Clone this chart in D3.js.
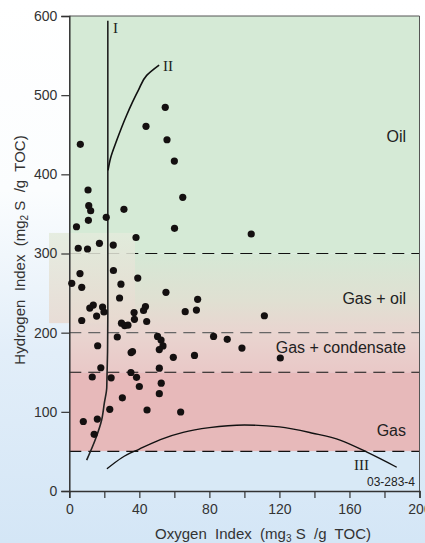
<!DOCTYPE html>
<html><head><meta charset="utf-8">
<script src="https://cdn.jsdelivr.net/npm/d3@7"></script>
<style>html,body{margin:0;padding:0;background:#fff}svg{display:block}</style>
</head><body>
<svg id="c" width="425" height="543"></svg>
<script>
// ---- data ----
const oxygenIndex = [54.8,43.8,55.8,6.3,60.0,10.7,64.8,11.1,12.2,31.2,21.1,10.9,4.1,60.1,38.1,103.9,5.1,10.4,17.2,25.1,6.1,1.4,7.1,25.2,39.1,29.5,28.7,55.2,66.2,73.3,72.6,111.4,13.7,11.7,19.0,19.8,15.6,7.1,37.0,37.2,43.5,42.4,44.2,29.8,31.6,33.5,27.4,50.4,52.4,82.4,90.2,98.6,53.5,51.4,36.1,35.3,59.4,71.5,120.5,16.2,18.0,13.1,23.9,35.2,38.4,40.0,51.4,52.5,51.4,30.3,8.0,16.0,14.2,23.1,44.4,63.6];
const hydrogenIndex = [484.7,460.7,443.7,437.9,416.8,380.2,371,360.4,354,355.8,345.7,341.9,333.8,331.8,320.2,324.6,306.6,305.7,312.9,310.7,274.7,262.3,257.3,278.5,269,261.2,243.8,251,226.5,242.1,228.6,221.4,234.9,231.1,232.4,226.1,221,215.4,225.5,216.9,233,228,214.1,212,209,209.5,194.5,195.2,190.7,195.2,191.6,180.6,183.2,178.7,176.2,174.9,168.9,171.2,168,183.5,155.7,144,143,149.7,143.6,132,155.1,136.2,122.9,117.7,87.8,90.9,71.6,103.2,102.3,99.8];

const curveI_oi = [22,22,21.4,20,18.5,14.7,9.9];
const curveI_hi = [594,220,131,111,90,64,39];
const curveII_oi = [22.1,23.5,27.1,32.8,39.4,44.2,51.3];
const curveII_hi = [405,420,443,475,506,525,538];
const curveIII_oi = [21.5,30,40,52,65,80,100,120,139,155,170,187];
const curveIII_hi = [28,42,53,65,74,80,83.4,81,73,64,49,30];

const zoneNames = ["Oil","Gas + oil","Gas + condensate","Gas"];
const zoneLabelHI = [441,236,174,70];
const boundaries = [300,200,150,50];
const xTicks = [0,20,40,60,80,100,120,140,160,180,200];
const xTickLabels = [0,40,80,120,160,200];
const yTicks = [0,100,200,300,400,500,600];

// ---- chart ----
const svg = d3.select("#c");
const W = 425, H = 543;
const x = d3.scaleLinear().domain([0,200]).range([69.3,419.5]);
const y = d3.scaleLinear().domain([0,600]).range([491,16]);
const sans = "'Liberation Sans', Arial, sans-serif";
const serif = "'Liberation Serif', 'Times New Roman', serif";

const defs = svg.append("defs");
const bg = defs.append("linearGradient").attr("id","bg").attr("x1",0).attr("y1",0).attr("x2",0).attr("y2",1);
bg.append("stop").attr("offset","0%").attr("stop-color","#ffffff");
bg.append("stop").attr("offset","35%").attr("stop-color","#fbfdfe");
bg.append("stop").attr("offset","65%").attr("stop-color","#e2eef9");
bg.append("stop").attr("offset","100%").attr("stop-color","#d4e6f6");
const mid = defs.append("linearGradient").attr("id","mid").attr("x1",0).attr("y1",0).attr("x2",0).attr("y2",1);
mid.append("stop").attr("offset","0%").attr("stop-color","#d5e8d5");
mid.append("stop").attr("offset","40%").attr("stop-color","#e0e0d2");
mid.append("stop").attr("offset","66%").attr("stop-color","#e9d5d0");
mid.append("stop").attr("offset","100%").attr("stop-color","#e9c8c7");
const pg = defs.append("linearGradient").attr("id","patch").attr("x1",0).attr("y1",0).attr("x2",0).attr("y2",1);
pg.append("stop").attr("offset","0%").attr("stop-color","#e3ebdc");
pg.append("stop").attr("offset","100%").attr("stop-color","#e8d9d0");

svg.append("rect").attr("width",W).attr("height",H).attr("fill","url(#bg)");

// zones
const zones = [
  {lo:300, hi:600, fill:"#d5ead6"},
  {lo:150, hi:300, fill:"url(#mid)"},
  {lo:50, hi:150, fill:"#e7b9ba"},
  {lo:0, hi:50, fill:"#d8e9f6"}
];
svg.selectAll("rect.zone").data(zones).join("rect").attr("class","zone")
  .attr("x",x(0)).attr("width",x(200)-x(0))
  .attr("y",d=>y(d.hi)).attr("height",d=>y(d.lo)-y(d.hi))
  .attr("fill",d=>d.fill);

// dashed boundaries
svg.selectAll("line.bd").data(boundaries).join("line").attr("class","bd")
  .attr("x1",x(0)).attr("x2",x(200)).attr("y1",d=>y(d)).attr("y2",d=>y(d))
  .attr("stroke",d=>d===200?"#666":"#111").attr("stroke-width",1.1)
  .attr("stroke-dasharray","12,7");

// patch artifact
svg.append("rect").attr("x",49).attr("y",y(326)).attr("width",86).attr("height",y(212)-y(326))
  .attr("fill","url(#patch)").attr("opacity",0.85);

// frame
svg.append("path").attr("d",`M${x(0)},${y(600)}H${x(200)}V${y(0)}`).attr("fill","none").attr("stroke","#555").attr("stroke-width",1);

// axes
const xAxis = svg.append("g").attr("transform",`translate(0,${y(0)})`)
  .call(d3.axisBottom(x).tickValues(xTicks).tickSize(7).tickFormat(d=>xTickLabels.includes(d)?d:""));
const yAxis = svg.append("g").attr("transform",`translate(${x(0)},0)`)
  .call(d3.axisLeft(y).tickValues(yTicks).tickSize(8).tickPadding(4));
[xAxis,yAxis].forEach(g=>{
  g.select(".domain").attr("stroke","#333").attr("stroke-width",1.5);
  g.selectAll(".tick line").attr("stroke","#333").attr("stroke-width",1.2);
  g.selectAll("text").attr("font-family",sans).attr("font-size",14).attr("fill","#333");
});
xAxis.selectAll("text").attr("dy","0.95em");

// curves
const lineGen = d3.line().x(d=>x(d[0])).y(d=>y(d[1])).curve(d3.curveMonotoneY);
const lineGenX = d3.line().x(d=>x(d[0])).y(d=>y(d[1])).curve(d3.curveMonotoneX);
const cI = d3.zip(curveI_oi, curveI_hi);
const cII = d3.zip(curveII_oi, curveII_hi);
const cIII = d3.zip(curveIII_oi, curveIII_hi);
svg.append("path").attr("d",lineGen(cI)).attr("fill","none").attr("stroke","#222").attr("stroke-width",1.6);
svg.append("path").attr("d",lineGen(cII)).attr("fill","none").attr("stroke","#111").attr("stroke-width",1.6);
svg.append("path").attr("d",lineGenX(cIII)).attr("fill","none").attr("stroke","#111").attr("stroke-width",1.4);

// points
svg.selectAll("circle.pt").data(d3.zip(oxygenIndex, hydrogenIndex)).join("circle").attr("class","pt")
  .attr("cx",d=>x(d[0])).attr("cy",d=>y(d[1])).attr("r",3.6).attr("fill","#141010");

// curve labels
svg.append("text").attr("x",113).attr("y",33).text("I").attr("font-family",serif).attr("font-size",15).attr("fill","#222");
svg.append("text").attr("x",163).attr("y",71).text("II").attr("font-family",serif).attr("font-size",15).attr("fill","#222");
svg.append("text").attr("x",354).attr("y",470).text("III").attr("font-family",serif).attr("font-size",15).attr("fill","#222");

// zone labels
svg.selectAll("text.zl").data(zoneNames).join("text").attr("class","zl")
  .attr("x",406).attr("y",(d,i)=>y(zoneLabelHI[i])).attr("text-anchor","end")
  .attr("font-family",sans).attr("font-size",16).attr("fill","#222").text(d=>d);

svg.append("text").attr("x",415).attr("y",486).attr("text-anchor","end").attr("font-family",sans)
  .attr("font-size",12).attr("fill","#222").text("03-283-4");

// axis titles
const xt = svg.append("text").attr("x",263).attr("y",539).attr("text-anchor","middle")
  .attr("font-family",sans).attr("font-size",15).attr("fill","#333").style("white-space","pre");
xt.append("tspan").text("Oxygen  Index  (mg");
xt.append("tspan").attr("font-size",10).attr("dy",3).text("3");
xt.append("tspan").attr("dy",-3).text(" S  /g  TOC)");

const yt = svg.append("text").attr("transform","translate(25,250) rotate(-90)").attr("text-anchor","middle")
  .attr("font-family",sans).attr("font-size",15).attr("fill","#333").style("white-space","pre");
yt.append("tspan").text("Hydrogen  Index  (mg");
yt.append("tspan").attr("font-size",10).attr("dy",3).text("2");
yt.append("tspan").attr("dy",-3).text(" S  /g  TOC)");
</script>
</body></html>
